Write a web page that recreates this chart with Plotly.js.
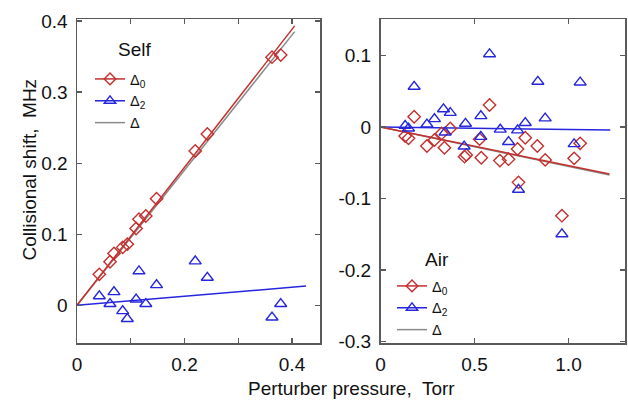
<!DOCTYPE html>
<html>
<head>
<meta charset="utf-8">
<script src="https://cdn.plot.ly/plotly-3.0.1.min.js"></script>
<style>html,body{margin:0;padding:0;background:#fff}#chart{width:628px;height:401px}</style>
</head>
<body>
<div id="chart"></div>
<script>
// ---- Self (left panel) ----
const selfX   = [0.0415,0.0614,0.0688,0.085,0.0936,0.110,0.1153,0.128,0.148,0.220,0.2425,0.3628,0.379];
const selfD0  = [0.0436,0.0613,0.073,0.0815,0.086,0.108,0.121,0.1256,0.150,0.217,0.241,0.349,0.352];
const selfD2  = [0.013,0.002,0.0187,-0.008,-0.019,0.0084,0.048,0.002,0.0286,0.062,0.039,-0.017,0.002];
const selfFitX    = [0, 0.405];
const selfFitD0   = [0, 0.393];
const selfFitD    = [0, 0.385];
const selfFitD2X  = [0, 0.426];
const selfFitD2   = [0, 0.0271];

// ---- Air (right panel) ----
const airXd = [0.131,0.149,0.179,0.247,0.287,0.325,0.340,0.371,0.447,0.456,0.527,0.536,0.580,0.635,0.681,0.729,0.734,0.770,0.834,0.876,0.965,1.030,1.062];
const airD0 = [-0.0126,-0.0158,0.0144,-0.0266,-0.0182,-0.009,-0.029,-0.002,-0.0415,-0.039,-0.017,-0.043,0.0308,-0.047,-0.045,-0.0308,-0.0774,-0.015,-0.0265,-0.046,-0.124,-0.0438,-0.0228];
const airXt = [0.131,0.149,0.179,0.247,0.287,0.335,0.344,0.371,0.445,0.452,0.534,0.534,0.580,0.637,0.681,0.729,0.734,0.770,0.837,0.876,0.965,1.030,1.062];
const airD2 = [0.0018,-0.0018,0.0564,0.0037,0.0112,0.025,-0.0074,0.0199,-0.027,0.0048,0.0154,-0.0136,0.102,-0.0035,-0.0208,-0.0045,-0.0875,0.0058,0.0634,0.0122,-0.1497,-0.0238,0.0625];
const airFitX   = [0, 1.218];
const airFitD0  = [0, -0.0657];
const airFitD   = [0, -0.0670];
const airFitD2X = [0, 1.222];
const airFitD2  = [0, -0.0042];

// ---- ticks ----
const xTickVals1 = [0,0.2,0.4];
const xTickText1 = ['0','0.2','0.4'];
const xMinorVals1 = [0.1,0.3];
const yTickVals1 = [0,0.1,0.2,0.3,0.4];
const yTickText1 = ['0','0.1','0.2','0.3','0.4'];
const xTickVals2 = [0,0.5,1.0];
const xTickText2 = ['0','0.5','1.0'];
const yTickVals2 = [-0.3,-0.2,-0.1,0,0.1];
const yTickText2 = ['-0.3','-0.2','-0.1','0','0.1'];

const legendNames = ['Δ<sub>0</sub>','Δ<sub>2</sub>','Δ'];

const RED = '#c4302e', BLUE = '#2626dc', GRAY = '#8a8a8a', AX = '#5a5a5a';
const FONT = '"Liberation Sans", Arial, sans-serif';
const W = 628, H = 401;

function mk(x, y, sym, color, xa, ya) {
  return {x, y, xaxis: xa, yaxis: ya, mode: 'markers', type: 'scatter', showlegend: false, hoverinfo: 'skip',
    marker: {symbol: sym, size: sym.startsWith('diamond') ? 9.5 : 10.5, color: color, line: {color: color, width: 1.4}}};
}
function ln(x, y, color, xa, ya) {
  return {x, y, xaxis: xa, yaxis: ya, mode: 'lines', type: 'scatter', showlegend: false, hoverinfo: 'skip',
    line: {color: color, width: 1.5}};
}
function lg(name, color, sym, xa, ya, legend) {
  const t = {x: [null], y: [null], xaxis: xa, yaxis: ya, type: 'scatter', name: name, legend: legend,
    mode: sym ? 'lines+markers' : 'lines', line: {color: color, width: 1.5}};
  if (sym) t.marker = {symbol: sym, size: sym.startsWith('diamond') ? 9 : 10, color: color, line: {color: color, width: 1.4}};
  return t;
}

const traces = [
  ln(selfFitX, selfFitD, GRAY, 'x', 'y'),
  ln(selfFitX, selfFitD0, RED, 'x', 'y'),
  ln(selfFitD2X, selfFitD2, BLUE, 'x', 'y'),
  mk(selfX, selfD0, 'diamond-open', RED, 'x', 'y'),
  mk(selfX, selfD2, 'triangle-up-open', BLUE, 'x', 'y'),
  ln(airFitD2X, airFitD2, BLUE, 'x2', 'y2'),
  ln(airFitX, airFitD, GRAY, 'x2', 'y2'),
  ln(airFitX, airFitD0, RED, 'x2', 'y2'),
  mk(airXd, airD0, 'diamond-open', RED, 'x2', 'y2'),
  mk(airXt, airD2, 'triangle-up-open', BLUE, 'x2', 'y2'),
  lg(legendNames[0], RED, 'diamond-open', 'x', 'y', 'legend'),
  lg(legendNames[1], BLUE, 'triangle-up-open', 'x', 'y', 'legend'),
  lg(legendNames[2], GRAY, null, 'x', 'y', 'legend'),
  lg(legendNames[0], RED, 'diamond-open', 'x2', 'y2', 'legend2'),
  lg(legendNames[1], BLUE, 'triangle-up-open', 'x2', 'y2', 'legend2'),
  lg(legendNames[2], GRAY, null, 'x2', 'y2', 'legend2')
];

function axis(dom, range, tv, tt, anchor, extra) {
  return Object.assign({
    domain: dom, range: range, anchor: anchor, tickvals: tv, ticktext: tt,
    showline: true, linecolor: AX, linewidth: 1.5, mirror: 'ticks',
    ticks: 'inside', ticklen: 5, tickwidth: 1.2, tickcolor: AX,
    showgrid: false, zeroline: false, fixedrange: true,
    tickfont: {family: FONT, size: 19, color: '#111'}
  }, extra || {});
}

const ydom = [(H - 343) / H, (H - 19.3) / H];
const legFont = {family: FONT, size: 14.5, color: '#111'};
const layout = {
  width: W, height: H, autosize: false,
  margin: {l: 0, r: 0, t: 0, b: 0},
  paper_bgcolor: '#fff', plot_bgcolor: '#fff',
  font: {family: FONT, color: '#111'},
  xaxis: axis([77 / W, 320 / W], [0, 0.4521], xTickVals1, xTickText1, 'y',
    {ticklabelstandoff: 4, minor: {tickvals: xMinorVals1, ticks: 'inside', ticklen: 5, tickwidth: 1.2, tickcolor: AX, showgrid: false}}),
  yaxis: axis(ydom, [-0.053, 0.4023], yTickVals1, yTickText1, 'x', {ticklabelstandoff: 4}),
  xaxis2: axis([380.5 / W, 625 / W], [0, 1.3005], xTickVals2, xTickText2, 'y2', {ticklabelstandoff: 4}),
  yaxis2: axis(ydom, [-0.302, 0.1506], yTickVals2, yTickText2, 'x2', {ticklabelstandoff: 4}),
  legend: {x: 90 / W, y: 1 - 63 / H, xanchor: 'left', yanchor: 'top', bgcolor: 'rgba(0,0,0,0)', borderwidth: 0,
    font: legFont, itemclick: false, itemdoubleclick: false},
  legend2: {x: 392 / W, y: 1 - 270 / H, xanchor: 'left', yanchor: 'top', bgcolor: 'rgba(0,0,0,0)', borderwidth: 0,
    font: legFont, itemclick: false, itemdoubleclick: false},
  annotations: [
    {text: 'Self', xref: 'paper', yref: 'paper', x: 116 / W, y: 1 - 49.7 / H, xanchor: 'left', yanchor: 'middle', showarrow: false, font: {family: FONT, size: 19, color: '#111'}},
    {text: 'Air', xref: 'paper', yref: 'paper', x: 423 / W, y: 1 - 259 / H, xanchor: 'left', yanchor: 'middle', showarrow: false, font: {family: FONT, size: 19, color: '#111'}},
    {text: 'Perturber pressure,  Torr', xref: 'paper', yref: 'paper', x: 351 / W, y: 1 - 388 / H, xanchor: 'center', yanchor: 'middle', showarrow: false, font: {family: FONT, size: 19, color: '#111'}},
    {text: 'Collisional shift,  MHz', xref: 'paper', yref: 'paper', x: 28.5 / W, y: 1 - 170 / H, xanchor: 'center', yanchor: 'middle', textangle: -90, showarrow: false, font: {family: FONT, size: 19, color: '#111'}}
  ]
};

Plotly.newPlot('chart', traces, layout, {staticPlot: true, displayModeBar: false});
</script>
</body>
</html>
